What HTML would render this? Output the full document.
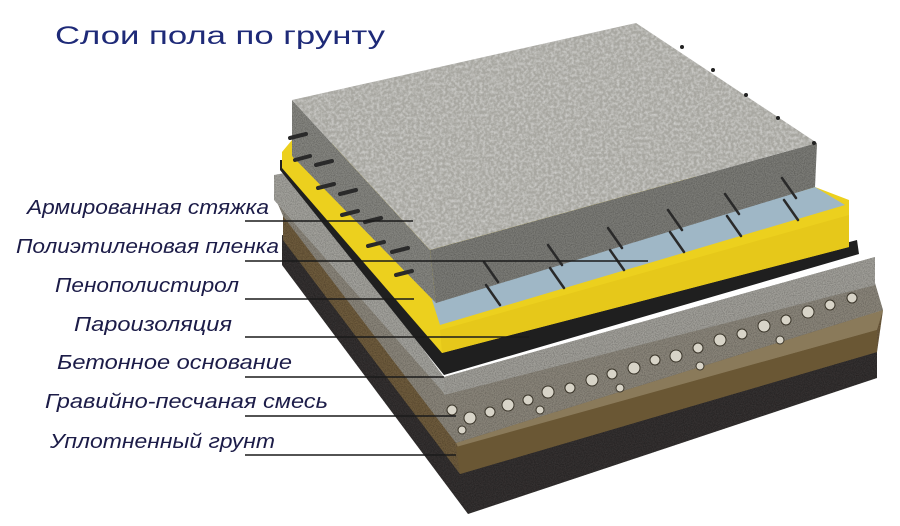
<!DOCTYPE html>
<html><head><meta charset="utf-8"><style>
html,body{margin:0;padding:0;background:#fff}
svg{display:block}
</style></head><body>
<svg width="900" height="526" viewBox="0 0 900 526" xmlns="http://www.w3.org/2000/svg">
<defs>
<filter id="n" x="0" y="0" width="100%" height="100%">
<feTurbulence type="fractalNoise" baseFrequency="0.9" numOctaves="2" seed="3" result="t"/>
<feColorMatrix in="t" type="matrix" values="0 0 0 0 0  0 0 0 0 0  0 0 0 0 0  0 0 0 0.9 -0.3" result="d"/>
<feComposite in="d" in2="SourceAlpha" operator="in" result="dm"/>
<feMerge><feMergeNode in="SourceGraphic"/><feMergeNode in="dm"/></feMerge>
</filter>
<filter id="n2" x="0" y="0" width="100%" height="100%">
<feTurbulence type="fractalNoise" baseFrequency="0.35" numOctaves="3" seed="7" result="t"/>
<feColorMatrix in="t" type="matrix" values="0 0 0 0 1  0 0 0 0 1  0 0 0 0 1  0 0 0 0.7 -0.25" result="d"/>
<feComposite in="d" in2="SourceAlpha" operator="in" result="dm"/>
<feMerge><feMergeNode in="SourceGraphic"/><feMergeNode in="dm"/></feMerge>
</filter>
</defs>

<!-- soil -->
<polygon points="282,235 300,240 468,455 877,345 877,378 468,514 282,265" fill="#343230" filter="url(#n)"/>
<!-- brown -->
<polygon points="283,214 300,214 456,440 883,310 877,352 460,474 283,240" fill="#6e5c3c" filter="url(#n)"/>
<polygon points="456,443 883,310 877,330 458,447" fill="#8a7a5a"/>
<polygon points="456,447 877,330 877,352 460,474" fill="#6a5734"/>
<!-- gravel -->
<polygon points="274,195 290,195 444,393 875,283 883,310 456,443 283,216" fill="#8a857a" filter="url(#n)"/>
<g fill="#d8d4c8" stroke="#3a352a" stroke-width="1">
<circle cx="452" cy="410" r="5"/><circle cx="470" cy="418" r="6"/><circle cx="490" cy="412" r="5"/><circle cx="508" cy="405" r="6"/>
<circle cx="528" cy="400" r="5"/><circle cx="548" cy="392" r="6"/><circle cx="570" cy="388" r="5"/><circle cx="592" cy="380" r="6"/>
<circle cx="612" cy="374" r="5"/><circle cx="634" cy="368" r="6"/><circle cx="655" cy="360" r="5"/><circle cx="676" cy="356" r="6"/>
<circle cx="698" cy="348" r="5"/><circle cx="720" cy="340" r="6"/><circle cx="742" cy="334" r="5"/><circle cx="764" cy="326" r="6"/>
<circle cx="786" cy="320" r="5"/><circle cx="808" cy="312" r="6"/><circle cx="830" cy="305" r="5"/><circle cx="852" cy="298" r="5"/>
<circle cx="462" cy="430" r="4"/><circle cx="540" cy="410" r="4"/><circle cx="620" cy="388" r="4"/><circle cx="700" cy="366" r="4"/><circle cx="780" cy="340" r="4"/>
</g>
<!-- concrete base -->
<polygon points="274,175 290,172 444,377 875,257 875,285 444,393 274,200" fill="#a3a29c" filter="url(#n)"/>
<polygon points="444,377 875,257 875,285 444,395" fill="#a09f99" filter="url(#n)"/>
<!-- black -->
<polygon points="280,160 292,160 442,350 857,240 859,254 444,375 280,170" fill="#1f1f1f"/>
<!-- yellow -->
<polygon points="282,152 292,140 815,187 849,200 849,247 442,353 282,168" fill="#ecd01e"/>
<polygon points="440,330 849,215 849,247 442,353" fill="#e6c81a"/>
<!-- blue film -->
<polygon points="432,300 815,187 845,205 440,325" fill="#9fb7c6"/>
<!-- slab -->
<polygon points="292,100 430,250 436,303 292,156" fill="#858580" filter="url(#n)"/>
<polygon points="430,250 817,143 815,187 436,303" fill="#7c7c77" filter="url(#n)"/>
<polygon points="292,100 636,23 817,143 430,250" fill="#a8a7a1" filter="url(#n2)"/>
<!-- rebar stubs left -->
<g stroke="#2a2a2a" stroke-width="4" stroke-linecap="round">
<line x1="290" y1="138" x2="306" y2="134"/><line x1="295" y1="160" x2="310" y2="156"/><line x1="316" y1="165" x2="332" y2="161"/>
<line x1="318" y1="188" x2="334" y2="184"/><line x1="340" y1="194" x2="356" y2="190"/><line x1="342" y1="215" x2="358" y2="211"/>
<line x1="365" y1="222" x2="381" y2="218"/><line x1="368" y1="246" x2="384" y2="242"/><line x1="392" y1="252" x2="408" y2="248"/><line x1="396" y1="275" x2="412" y2="271"/>
</g>
<g stroke="#2a2a2a" stroke-width="2.5" stroke-linecap="round">
<line x1="484" y1="262" x2="498" y2="282"/><line x1="486" y1="285" x2="500" y2="305"/>
<line x1="548" y1="245" x2="562" y2="265"/><line x1="550" y1="268" x2="564" y2="288"/>
<line x1="608" y1="228" x2="622" y2="248"/><line x1="610" y1="250" x2="624" y2="270"/>
<line x1="668" y1="210" x2="682" y2="230"/><line x1="670" y1="232" x2="684" y2="252"/>
<line x1="725" y1="194" x2="739" y2="214"/><line x1="727" y1="216" x2="741" y2="236"/>
<line x1="782" y1="178" x2="796" y2="198"/><line x1="784" y1="200" x2="798" y2="220"/>
</g>
<g fill="#222"><circle cx="682" cy="47" r="2"/><circle cx="713" cy="70" r="2"/><circle cx="746" cy="95" r="2"/><circle cx="778" cy="118" r="2"/><circle cx="814" cy="143" r="2"/></g>

<!-- leader lines -->
<g stroke="#1a1a1a" stroke-width="1.5">
<line x1="245" y1="221" x2="413" y2="221"/>
<line x1="245" y1="261" x2="648" y2="261"/>
<line x1="245" y1="299" x2="414" y2="299"/>
<line x1="245" y1="337" x2="529" y2="337"/>
<line x1="245" y1="377" x2="444" y2="377"/>
<line x1="245" y1="416" x2="456" y2="416"/>
<line x1="245" y1="455" x2="456" y2="455"/>
</g>

<text x="55" y="44" font-family="Liberation Sans, sans-serif" font-size="25" fill="#1e2a78" textLength="330" lengthAdjust="spacingAndGlyphs">Слои пола по грунту</text>
<g font-family="Liberation Sans, sans-serif" font-size="20" font-style="italic" fill="#1c1c48">
<text x="27" y="214" textLength="242" lengthAdjust="spacingAndGlyphs">Армированная стяжка</text>
<text x="16" y="253" textLength="263" lengthAdjust="spacingAndGlyphs">Полиэтиленовая пленка</text>
<text x="55" y="292" textLength="184" lengthAdjust="spacingAndGlyphs">Пенополистирол</text>
<text x="74" y="331" textLength="158" lengthAdjust="spacingAndGlyphs">Пароизоляция</text>
<text x="57" y="369" textLength="235" lengthAdjust="spacingAndGlyphs">Бетонное основание</text>
<text x="45" y="408" textLength="283" lengthAdjust="spacingAndGlyphs">Гравийно-песчаная смесь</text>
<text x="50" y="448" textLength="225" lengthAdjust="spacingAndGlyphs">Уплотненный грунт</text>
</g>
</svg>
</body></html>
